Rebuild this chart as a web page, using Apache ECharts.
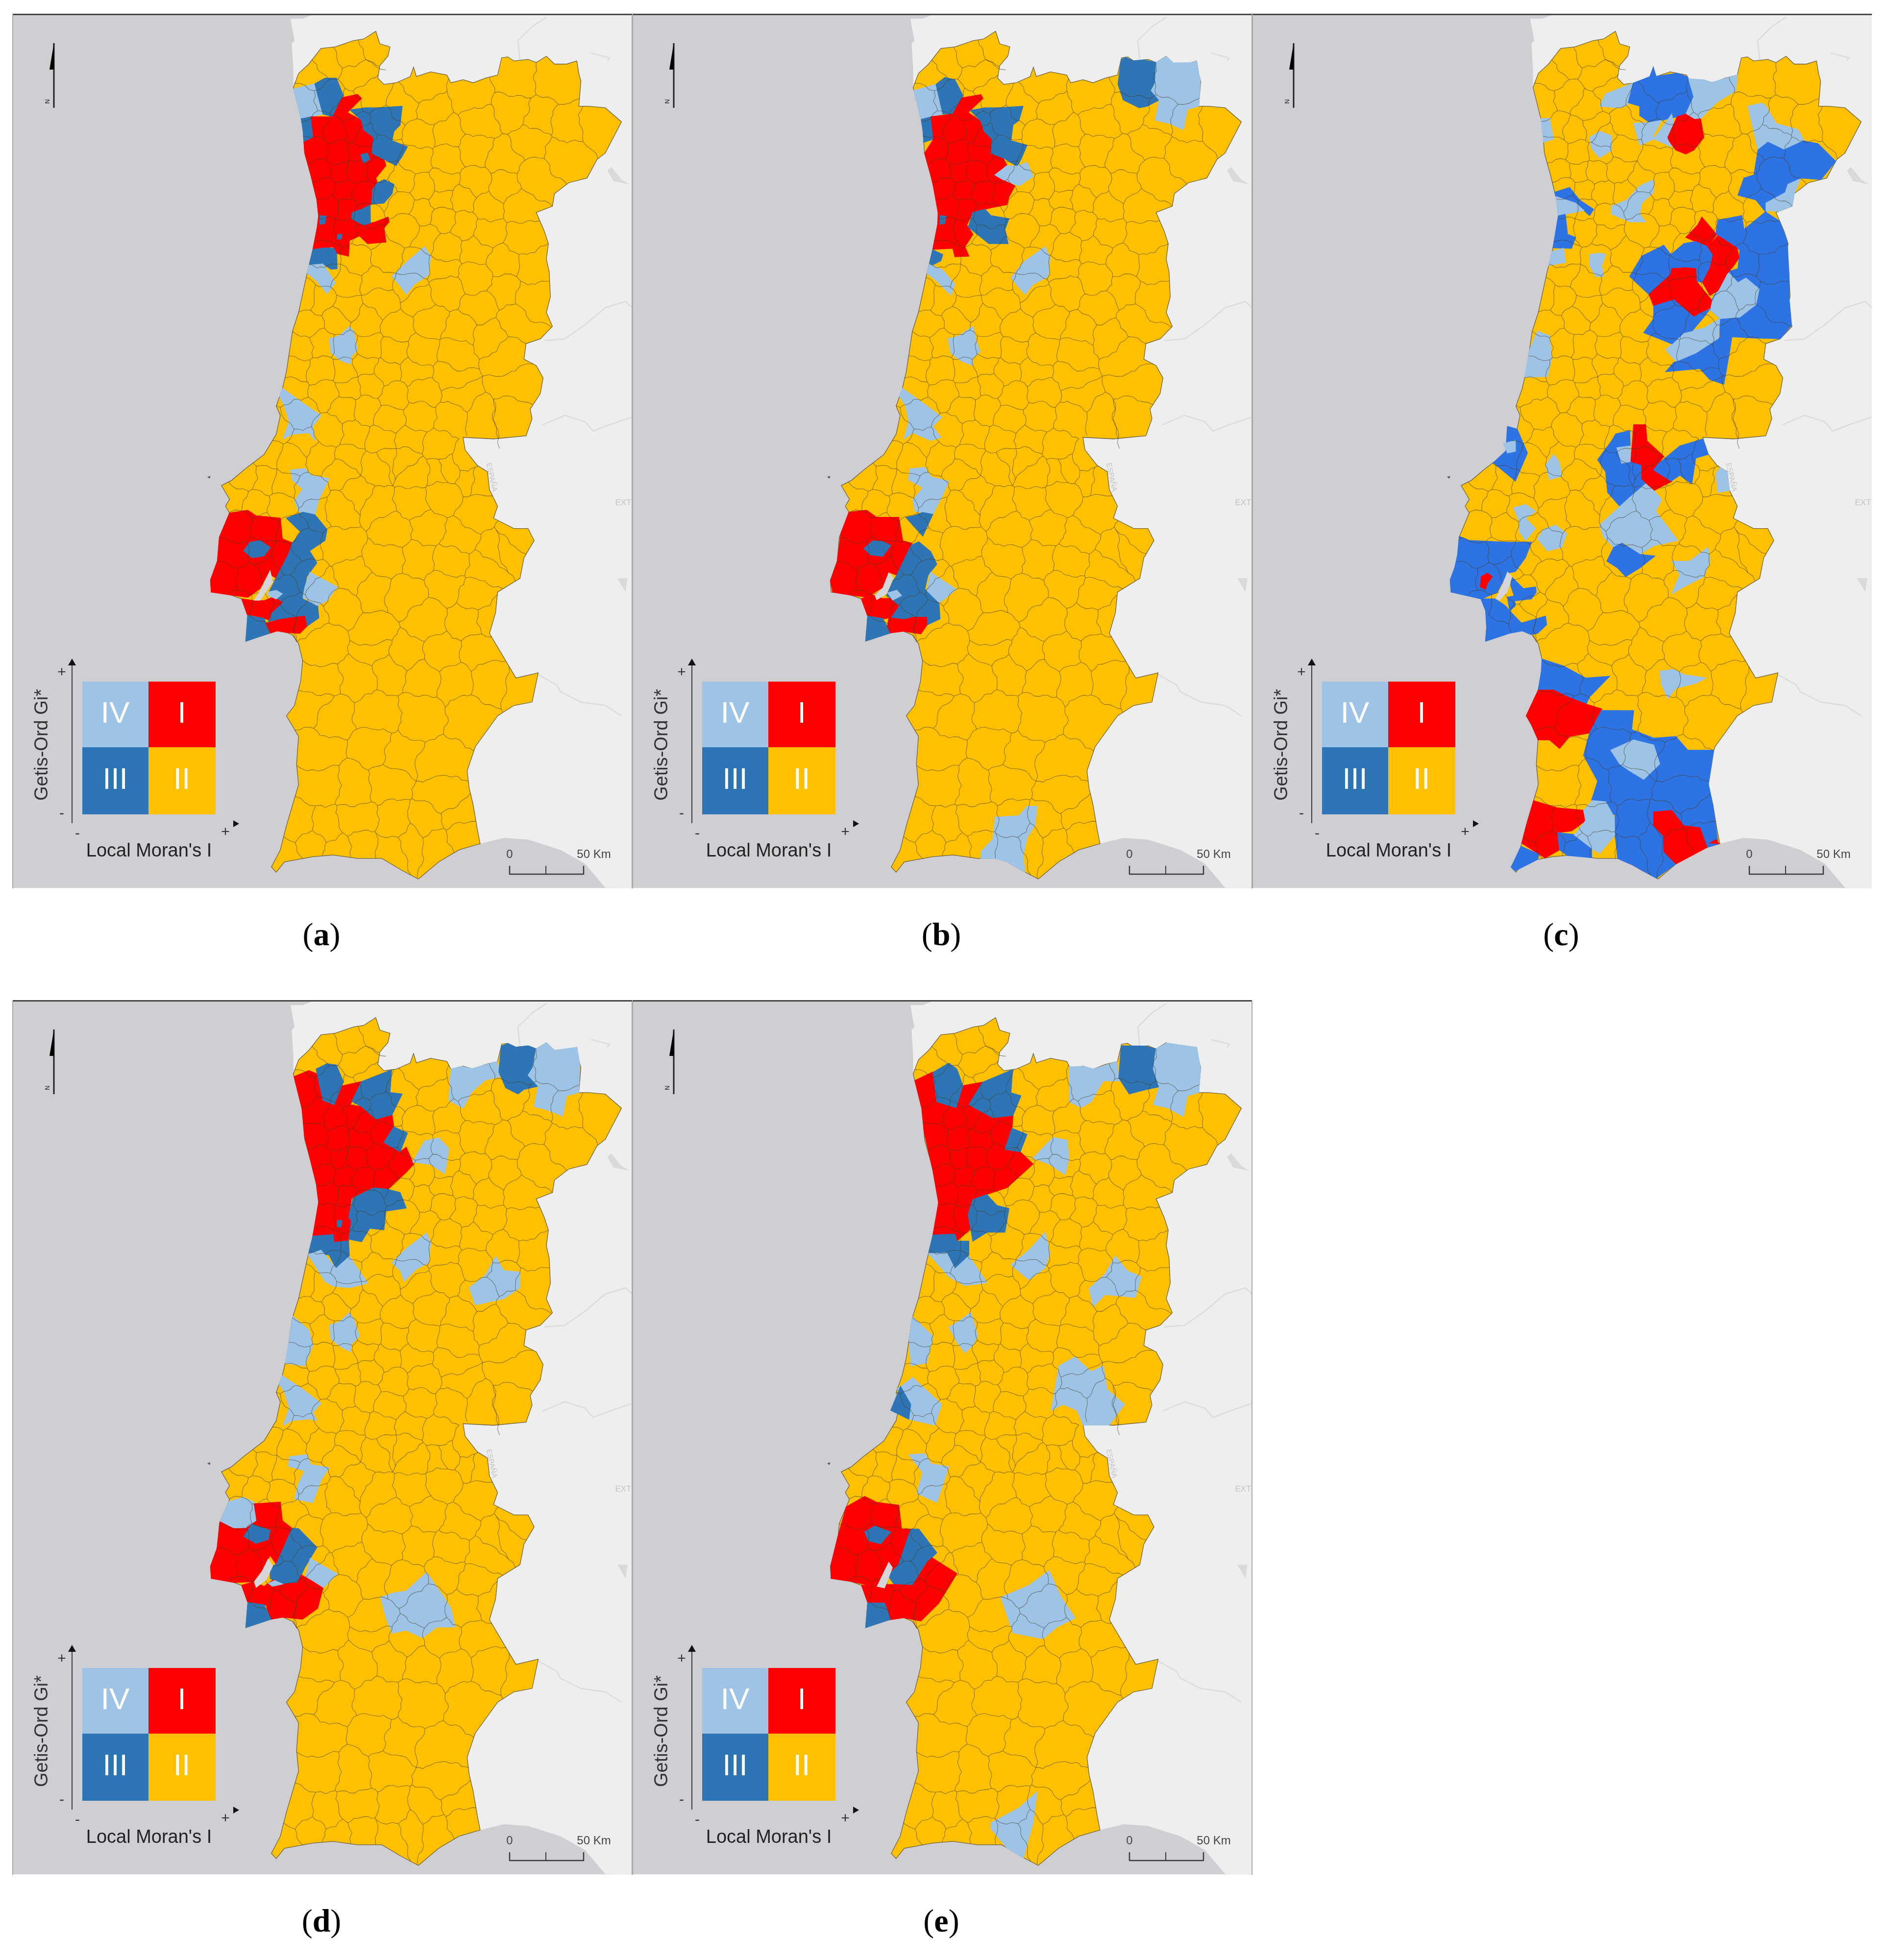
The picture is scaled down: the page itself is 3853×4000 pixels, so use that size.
<!DOCTYPE html>
<html style="height: 100%">
<head>
    <meta charset="utf-8">
</head>
<body style="height: 100%; margin: 0; background: #fff">
    <div id="container" style="width: 3853px; height: 4000px"></div>
    <script type="text/javascript" src="https://cdn.jsdelivr.net/npm/echarts@6/dist/echarts.min.js"></script>
    <script type="text/javascript">
// ---- categories / labels
var quadrants = ['I', 'II', 'III', 'IV'];
var captions = ['a', 'b', 'c', 'd', 'e'];
var axisX = "Local Moran's I";
var axisY = 'Getis-Ord Gi*';
var scaleLabels = ['0', '50 Km'];

// ---- map geometry. Flat x,y lists, each in its own trace frame (see frames below)
var coastNorth = [650,1455, 680,1390, 690,1330, 680,1300, 695,1245, 705,1190, 712,1130, 720,1060, 735,1000, 755,880, 770,800, 785,700, 780,640, 765,560, 750,490, 745,400];
var outlineNorth = [722,280, 735,235, 760,205, 790,155, 825,150, 870,130, 895,125, 925,100, 935,140, 960,150, 955,180, 935,210, 930,250, 945,270, 975,265, 1010,245, 1018,215, 1025,245, 1060,230, 1100,240, 1110,265, 1140,255, 1165,265, 1195,250, 1225,240, 1235,185, 1250,182, 1265,195, 1300,190, 1320,200, 1345,180, 1365,205, 1395,205, 1420,195, 1425,235, 1430,260, 1425,340, 1450,340, 1490,345, 1530,390, 1510,440, 1490,490, 1470,510, 1445,570, 1400,585, 1365,620, 1360,660, 1320,680, 1340,740, 1350,780, 1345,830, 1352,870, 1355,950, 1345,1000, 1360,1045, 1330,1085, 1295,1100, 1290,1150, 1320,1170, 1337,1210, 1330,1260, 1305,1310, 1310,1340, 1295,1395, 1215,1405, 1140,1400, 1145,1440, 1175,1490, 1200,1510];
var outlineSouth = [1205,142, 1225,190, 1215,225, 1265,255, 1300,255, 1315,290, 1290,340, 1280,400, 1225,440, 1220,500, 1205,560, 1225,600, 1250,650, 1270,690, 1325,675, 1310,760, 1265,770, 1225,800, 1170,890, 1150,960, 1155,1010, 1165,1060, 1175,1130, 1182,1172, 1130,1190, 1080,1225, 1030,1275, 990,1250, 940,1215, 880,1215, 820,1205, 770,1210, 700,1225, 680,1255, 668,1240, 690,1190, 705,1120, 720,1060, 735,1000, 730,940, 735,860, 705,800, 725,770, 740,700, 745,640, 735,590, 720,565, 690,550, 650,565, 605,583, 610,510, 595,460, 560,445, 520,440, 518,405, 535,350, 540,280, 565,210, 555,190, 565,170, 545,130, 570,115, 600,85];
var spainNorth = [770,47, 1556,47];
var spainSouth = [1556,1302, 1490,1300, 1440,1230, 1380,1190, 1300,1160, 1240,1155, 1182,1172];
var spainCoast = [722,285, 722,220, 718,140, 725,130, 715,60, 745,60];
var riversNorth = [
    [1280,190, 1275,130, 1310,85, 1345,55],
    [1455,170, 1500,185, 1495,195],
    [1340,1090, 1390,1085, 1440,1040, 1490,985, 1540,965, 1556,985],
    [1335,1360, 1390,1330, 1440,1350, 1460,1380, 1500,1360, 1556,1335]
];
var riversSouth = [[1325,680, 1370,710, 1380,730, 1430,760, 1490,770, 1530,800]];
var lakesNorth = [[1495,545, 1505,535, 1530,575, 1550,590, 1510,580]];
var lakesSouth = [[1520,400, 1545,400, 1540,440], [510,105, 518,102, 516,110]];

// municipality seats, the boundary mesh is grown from them
var seatsNorth = [770,240, 805,200, 860,170, 920,140, 880,240, 810,310, 745,325, 910,300, 1040,290, 1000,340, 1060,350, 1160,310, 1270,260, 1370,260, 1470,400, 1400,400, 1330,380, 1260,350, 1180,390, 1100,430, 1040,430, 1030,510, 1100,510, 1170,480, 1240,510, 1310,450, 1390,490, 1320,570, 1240,600, 1170,590, 1090,580,
    790,410, 850,340, 875,410, 820,420, 900,440, 780,480, 830,490, 890,490, 930,540, 790,550, 835,550, 880,550, 800,600, 845,610, 895,620, 950,400, 940,470, 950,620, 810,660, 850,670, 900,690, 810,740, 850,730, 900,750, 800,820,
    990,580, 1040,600, 1090,640, 1140,640, 1200,660, 1280,660, 985,650, 1040,680, 1090,700, 1140,720, 1200,740, 1285,760, 1000,730, 1050,760, 1100,790, 1170,800, 1240,840, 1310,850, 950,820, 1020,850, 1090,860, 1170,890, 1240,930, 1310,950, 880,830, 800,870, 850,900, 930,900, 1010,920, 790,960, 750,950, 850,990, 940,970, 1030,960, 1100,930, 1180,980, 1270,1030, 760,1040, 830,1020, 900,1030, 980,1050, 1060,1030, 1130,1060, 1210,1080, 740,1110, 790,1100, 850,1110, 910,1110, 970,1120, 1040,1120, 1120,1130, 1240,1130, 730,1180, 790,1190, 850,1190, 900,1170, 950,1190, 1020,1190, 1110,1200, 1260,1240, 720,1250, 800,1260, 860,1240, 910,1230, 970,1270, 1040,1260, 1130,1270, 740,1320, 850,1310, 900,1310, 960,1340, 1030,1330, 1110,1340, 1190,1340, 1250,1330, 680,1370, 750,1420, 810,1380, 870,1390, 940,1410, 1010,1410, 1080,1430, 1150,1470, 660,1450, 720,1470, 790,1460, 860,1470, 930,1490, 1000,1480, 1080,1510, 1160,1530];
var seatsSouth = [600,110, 650,120, 700,130, 760,150, 840,90, 880,160, 950,60, 1020,90, 1100,80, 1170,110, 580,160, 630,180, 690,190, 780,210, 840,200, 930,190, 1020,180, 1090,160, 1170,210, 1250,310, 590,250, 650,250, 720,260, 840,300, 970,260, 1050,250, 1130,280, 1220,320, 580,330, 640,320, 700,340, 750,300, 760,400, 870,400, 950,340, 1030,340, 1110,350, 1190,370, 1270,280,
    560,400, 610,400, 660,370, 590,480, 640,490, 700,440, 720,480, 790,430, 620,540, 700,510, 760,510,
    840,480, 920,440, 1000,450, 1100,420, 1170,450, 920,560, 1050,520, 1150,520, 1210,510, 800,590, 920,600, 1000,620, 1090,620, 1180,620, 790,700, 880,690, 960,670, 1040,690, 1120,700, 1200,700, 1290,720, 780,770, 820,800, 930,790, 1030,790, 1160,800, 790,900, 920,900, 980,920, 1090,950, 790,990, 870,1000, 950,990, 1090,1030, 740,1120, 800,1130, 880,1110, 970,1120, 1050,1120, 1130,1100, 700,1210, 770,1170, 830,1190, 890,1180, 960,1180, 1010,1160, 1070,1170, 1140,1140];
// how far boundaries bend off the straight line, as a share of their length
var bends = [0.09, -0.13, 0.05, 0.14, -0.07, -0.11, 0.12, -0.04, 0.08, -0.15, 0.1, 0.06, -0.12, 0.13, -0.09, 0.04, -0.06, 0.11];

// ---- classified areas per panel: [quadrant, trace frame, outline]. E is the Tagus estuary
var regionsA = [
    ['IV','an',[722,285, 775,268, 790,345, 795,365, 745,380, 730,345]],
    ['III','an',[778,262, 800,250, 828,250, 845,305, 840,320, 822,375, 795,365, 780,310]],
    ['III','an',[742,380, 765,372, 772,440, 755,455, 748,420]],
    ['I','an',[765,370, 820,370, 838,310, 880,302, 890,315, 855,360, 890,385, 895,415, 920,440, 915,490, 945,510, 950,530, 925,570, 930,590, 915,610, 920,650, 890,670, 868,680, 865,700, 895,720, 925,710, 955,695, 958,710, 945,730, 950,775, 905,780, 885,755, 860,770, 858,820, 825,810, 820,790, 775,800, 785,730, 788,690, 782,640, 765,560, 750,490, 755,455, 772,440]],
    ['III','an',[860,350, 900,345, 930,345, 990,340, 985,400, 970,420, 965,450, 1003,470, 990,500, 975,530, 945,510, 915,490, 920,440, 895,415, 890,385]],
    ['III','an',[888,495, 905,490, 910,510, 895,522]],
    ['III','an',[930,585, 945,575, 970,590, 965,620, 945,650, 915,655, 920,610]],
    ['III','an',[868,680, 890,670, 915,665, 912,715, 895,720, 865,700]],
    ['III','an',[788,690, 803,692, 800,715, 787,718]],
    ['III','an',[775,800, 800,805, 820,795, 828,815, 830,860, 815,862, 795,845, 762,855]],
    ['III','an',[832,750, 842,750, 840,765, 830,765]],
    ['IV','an',[765,850, 795,845, 825,905, 805,940, 780,900, 760,875]],
    ['IV','an',[965,885, 1000,840, 1045,790, 1060,820, 1055,880, 1020,910, 1000,942, 985,915]],
    ['IV','an',[810,1085, 835,1075, 860,1045, 870,1060, 880,1120, 865,1140, 862,1165, 840,1155, 815,1130]],
    ['IV','an',[690,1270, 700,1245, 745,1290, 790,1330, 770,1365, 775,1410, 760,1385, 720,1390, 697,1405, 712,1350, 700,1300]],
    ['IV','as',[715,85, 750,80, 765,100, 810,110, 785,170, 775,215, 735,205, 725,175, 745,140, 720,115]],
    ['I','as',[565,210, 610,202, 630,218, 690,225, 695,285, 720,297, 710,330, 680,400, 660,385, 640,430, 610,455, 570,445, 520,440, 518,405, 535,350, 540,280]],
    ['III','as',[600,320, 615,295, 640,290, 665,310, 650,335, 620,340]],
    ['III','as',[705,225, 745,208, 775,225, 805,258, 800,290, 762,320, 780,355, 755,395, 745,460, 782,480, 785,515, 755,540, 715,515, 660,525, 668,500, 695,470, 660,445, 675,410, 710,330, 725,295, 740,265]],
    ['IV','as',[765,385, 830,425, 805,465, 780,480, 745,455, 750,425]],
    ['I','as',[595,460, 625,465, 650,465, 675,450, 695,470, 668,500, 660,520, 630,510, 610,505]],
    ['III','as',[612,507, 650,518, 662,555, 640,570, 605,583]],
    ['I','as',[655,530, 690,522, 715,515, 750,510, 755,540, 738,560, 710,545, 680,545, 665,558]],
    ['IV','as',[660,440, 680,435, 695,445, 680,460, 660,450]],
    ['E','as',[665,375, 672,410, 655,440, 640,465, 625,465, 645,425]]
];
var regionsB = [
    ['IV','bn',[702,290, 758,270, 775,365, 725,380, 712,345]],
    ['III','bn',[758,265, 780,248, 805,255, 825,305, 808,365, 775,365]],
    ['III','bn',[722,382, 745,372, 752,445, 735,455, 728,420]],
    ['I','bn',[745,370, 800,368, 820,312, 870,303, 875,315, 838,360, 870,388, 878,420, 898,445, 895,490, 925,505, 935,530, 905,560, 925,575, 955,595, 940,630, 935,655, 895,665, 850,680, 835,720, 850,750, 830,790, 840,820, 805,822, 800,795, 757,800, 768,720, 768,680, 750,590, 740,550, 730,490, 752,445]],
    ['III','bn',[845,355, 880,345, 915,345, 975,340, 965,385, 950,400, 945,450, 985,465, 970,510, 960,532, 925,505, 895,490, 898,445, 878,420, 870,388]],
    ['IV','bn',[905,560, 940,530, 960,532, 985,520, 1000,565, 965,595, 925,575]],
    ['III','bn',[850,680, 880,668, 895,690, 940,700, 930,735, 938,780, 890,780, 835,730]],
    ['III','bn',[768,690, 783,692, 780,715, 768,718]],
    ['III','bn',[752,800, 775,815, 770,835, 742,855]],
    ['IV','bn',[738,875, 752,848, 775,865, 805,910, 795,945, 760,900]],
    ['IV','bn',[945,890, 975,840, 1030,790, 1042,825, 1038,885, 1000,910, 980,942]],
    ['IV','bn',[788,1085, 815,1075, 850,1045, 858,1090, 868,1125, 850,1145, 850,1170, 820,1155, 795,1130]],
    ['IV','bn',[670,1270, 680,1245, 725,1290, 772,1335, 750,1365, 770,1400, 745,1410, 700,1385, 678,1405, 690,1350, 682,1300]],
    ['III','bn',[1215,190, 1230,182, 1250,195, 1275,190, 1310,205, 1305,265, 1295,290, 1315,320, 1285,340, 1265,345, 1225,320, 1212,270]],
    ['IV','bn',[1310,205, 1335,178, 1350,200, 1395,200, 1412,195, 1415,235, 1420,255, 1410,345, 1385,350, 1375,415, 1340,395, 1305,385, 1315,320, 1295,290, 1305,265]],
    ['IV','bs',[692,90, 730,85, 745,115, 790,130, 770,185, 750,235, 705,225, 700,190, 725,150, 690,125]],
    ['III','bs',[683,245, 702,240, 725,225, 750,240, 725,305, 700,270]],
    ['I','bs',[545,225, 585,222, 610,245, 665,245, 675,320, 698,328, 660,430, 640,420, 625,470, 585,500, 545,500, 500,490, 492,450, 510,385, 520,295]],
    ['III','bs',[578,345, 600,320, 625,322, 645,335, 625,370, 595,365]],
    ['III','bs',[697,335, 715,323, 745,355, 760,395, 738,430, 730,475, 765,505, 768,570, 735,590, 680,572, 645,590, 645,555, 665,530, 650,510, 635,495, 650,450, 660,430]],
    ['IV','bs',[748,425, 808,475, 780,505, 760,518, 730,490]],
    ['I','bs',[572,505, 600,500, 625,505, 650,495, 668,525, 645,565, 630,570, 590,558]],
    ['III','bs',[592,560, 625,565, 645,610, 620,625, 580,640]],
    ['I','bs',[640,565, 680,575, 700,565, 735,565, 737,595, 720,618, 680,598, 645,618, 635,595]],
    ['IV','bs',[635,485, 660,478, 672,495, 650,510]],
    ['IV','bs',[905,1205, 965,1200, 985,1170, 1010,1170, 1005,1230, 985,1270, 975,1330, 980,1380, 940,1340, 905,1335, 870,1340, 870,1315, 900,1275]],
    ['E','bs',[640,420, 652,440, 635,490, 610,510, 605,495, 625,470]]
];
var regionsC = [
    ['IV','cn',[705,380, 725,378, 735,445, 712,455]],
    ['IV','cn',[850,340, 865,300, 935,275, 920,335, 900,345]],
    ['III','cn',[925,330, 935,275, 975,245, 985,215, 990,245, 1045,225, 1078,240, 1085,310, 1065,365, 1040,375, 1005,385, 975,392, 950,370, 950,340]],
    ['IV','cn',[1075,250, 1105,245, 1130,265, 1195,240, 1190,290, 1145,325, 1120,355, 1095,390, 1070,365, 1085,310]],
    ['IV','cn',[935,395, 975,392, 1005,385, 985,430, 985,445, 950,465]],
    ['IV','cn',[985,445, 1030,365, 1035,395, 1020,440, 1030,470]],
    ['I','cn',[1020,440, 1045,380, 1065,368, 1085,385, 1100,378, 1110,440, 1085,480, 1065,493, 1040,480, 1020,455]],
    ['IV','cn',[825,440, 850,420, 880,435, 880,480, 850,505, 830,475]],
    ['IV','cn',[1220,340, 1255,330, 1265,340, 1290,395, 1345,415, 1360,450, 1310,480, 1270,455, 1245,480]],
    ['III','cn',[1245,480, 1270,455, 1310,480, 1360,455, 1395,460, 1437,515, 1400,565, 1355,570, 1320,590, 1315,615, 1265,650, 1265,680, 1240,640, 1195,625, 1210,570, 1235,560]],
    ['IV','cn',[1320,590, 1350,570, 1335,620, 1330,660, 1300,685, 1265,675, 1265,650, 1315,620]],
    ['III','cn',[738,615, 775,600, 800,640, 835,670, 825,690, 790,650, 745,628]],
    ['IV','cn',[745,628, 790,650, 810,675, 750,690, 750,660]],
    ['IV','cn',[918,640, 950,595, 985,575, 985,615, 955,650, 950,685, 965,710, 925,710, 880,685, 880,660]],
    ['III','cn',[752,690, 765,690, 770,750, 790,760, 780,795, 740,795]],
    ['IV','cn',[730,805, 760,795, 765,840, 725,850]],
    ['IV','cn',[825,815, 850,810, 865,815, 855,850, 860,885, 840,885, 825,850]],
    ['III','cn',[1145,705, 1205,690, 1210,735, 1262,680, 1295,710, 1322,770, 1325,880, 1322,960, 1330,1040, 1305,1090, 1230,1082, 1180,1078, 1175,1120, 1160,1230, 1125,1215, 1100,1180, 1015,1190, 1035,1160, 1090,1130, 1150,1080, 1150,1020, 1125,990, 1130,960, 1170,870, 1195,860, 1200,800, 1140,750]],
    ['I','cn',[1065,760, 1095,720, 1105,695, 1125,725, 1140,755, 1120,790]],
    ['IV','cn',[1130,975, 1170,870, 1195,905, 1215,890, 1248,925, 1240,975, 1200,1015, 1150,1020, 1125,995]],
    ['IV','cn',[1015,1120, 1060,1065, 1110,1050, 1150,1020, 1145,1080, 1090,1130, 1040,1155]],
    ['III','cn',[925,885, 955,820, 1010,785, 1028,815, 1060,780, 1090,770, 1120,790, 1135,820, 1125,860, 1110,905, 1090,900, 1090,860, 1050,855, 1000,910, 975,945]],
    ['I','cn',[1120,790, 1145,755, 1195,790, 1200,825, 1185,850, 1170,880, 1145,930, 1125,945, 1105,915, 1130,860, 1128,820]],
    ['I','cn',[972,945, 1000,905, 1030,885, 1030,860, 1065,850, 1090,860, 1090,910, 1125,960, 1125,985, 1085,1015, 1035,960, 985,980]],
    ['III','cn',[985,985, 1035,960, 1085,1015, 1105,1000, 1125,990, 1110,1015, 1080,1050, 1060,1065, 1030,1100, 960,1065, 985,1020]],
    ['IV','cn',[670,1120, 695,1060, 725,1075, 730,1150, 720,1205, 672,1210]],
    ['III','cn',[620,1365, 650,1375, 670,1450, 640,1540, 590,1490, 610,1440]],
    ['IV','cn',[610,1420, 640,1410, 640,1445, 620,1450]],
    ['IV','cn',[715,1490, 735,1455, 750,1480, 755,1525, 725,1535]],
    ['III','cs',[845,55, 880,0, 890,-20, 925,-30, 928,60, 955,70, 955,110, 965,125, 900,190, 870,150, 865,90]],
    ['IV','cs',[893,20, 925,15, 925,60, 905,65]],
    ['I','cs',[935,-47, 965,-47, 968,0, 1010,45, 985,85, 1030,118, 985,145, 955,110, 955,70, 928,60]],
    ['III','cs',[1000,70, 1050,15, 1105,-5, 1115,45, 1090,50, 1080,125, 1050,100, 1030,115, 985,85]],
    ['IV','cs',[1140,95, 1155,70, 1175,90, 1165,150, 1145,150]],
    ['IV','cs',[850,245, 930,170, 965,125, 985,145, 1005,170, 990,205, 1045,290, 985,305, 950,330, 910,295, 885,310, 860,280]],
    ['III','cs',[868,350, 885,310, 905,295, 950,330, 988,335, 950,370, 915,395, 895,370]],
    ['IV','cs',[635,195, 665,185, 690,205, 665,225, 690,255, 665,290, 650,265, 650,235]],
    ['IV','cs',[695,285, 710,258, 740,245, 768,270, 755,310, 720,320]],
    ['IV','cs',[1030,350, 1075,350, 1120,310, 1125,350, 1110,395, 1060,425, 1030,445, 1050,390]],
    ['III','cs',[500,278, 525,290, 620,295, 680,295, 665,340, 640,380, 620,385, 595,440, 560,450, 480,440, 475,405, 490,370, 500,330]],
    ['I','cs',[555,395, 570,385, 582,395, 570,415, 565,432, 552,425]],
    ['III','cs',[630,395, 660,430, 690,425, 692,440, 680,460, 640,465, 635,445, 628,420]],
    ['III','cs',[555,455, 590,460, 615,480, 630,500, 655,530, 715,510, 718,535, 695,560, 680,560, 660,545, 625,565, 565,583, 575,545, 575,490]],
    ['III','cs',[620,455, 640,450, 640,480, 625,495]],
    ['III','cs',[705,635, 760,655, 815,690, 875,685, 825,745, 815,770, 770,745, 735,725, 695,725, 700,670]],
    ['I','cs',[695,725, 735,725, 770,745, 815,765, 855,780, 850,845, 775,860, 750,895, 725,870, 695,870, 690,820, 668,800]],
    ['IV','cs',[1000,670, 1035,665, 1060,680, 1115,690, 1090,705, 1040,720, 1020,750, 1005,710]],
    ['III','cs',[858,785, 935,785, 930,840, 985,865, 1040,860, 1070,900, 1135,900, 1115,1000, 1130,1060, 1145,1170, 1110,1180, 1050,1225, 990,1275, 940,1225, 895,1215, 890,1160, 880,1110, 890,1090, 830,1045, 845,990, 810,915, 825,850]],
    ['IV','cs',[878,900, 935,870, 985,885, 1000,940, 960,985, 925,960, 900,940]],
    ['I','cs',[695,1050, 745,1068, 810,1075, 815,1105, 780,1135, 745,1140, 750,1190, 715,1220, 655,1170, 680,1110]],
    ['III','cs',[655,1180, 700,1200, 695,1215, 640,1250, 630,1240]],
    ['III','cs',[745,1135, 785,1145, 830,1185, 830,1215, 770,1210, 750,1190]],
    ['IV','cs',[830,1050, 865,1050, 893,1100, 880,1150, 850,1200, 830,1185, 785,1150, 815,1105, 810,1075]],
    ['I','cs',[985,1080, 1030,1075, 1060,1120, 1100,1125, 1115,1170, 1040,1230, 1010,1195, 1010,1150, 985,1120]],
    ['I','cs',[1125,1170, 1140,1160, 1148,1172]],
    ['E','cs',[620,380, 632,395, 620,440, 600,465, 590,460, 605,425]]
];
var regionsD = [
    ['I','dn',[722,310, 760,290, 780,300, 795,385, 822,400, 838,340, 890,325, 862,400, 890,405, 925,445, 965,430, 970,475, 945,520, 985,550, 1000,535, 1018,590, 1000,615, 955,670, 920,665, 865,700, 858,760, 865,770, 858,835, 822,840, 820,815, 775,820, 790,710, 782,650, 765,570, 750,500, 745,410]],
    ['III','dn',[778,285, 805,268, 828,272, 845,325, 825,400, 795,385]],
    ['III','dn',[860,385, 890,325, 965,295, 960,360, 990,365, 970,430, 925,445, 890,405]],
    ['III','dn',[945,520, 970,470, 1003,490, 985,550]],
    ['III','dn',[870,700, 920,665, 955,672, 985,680, 1000,730, 950,740, 945,800, 910,795, 890,838, 860,830, 865,770, 855,760]],
    ['III','dn',[770,820, 820,815, 822,840, 858,835, 860,885, 828,925, 810,880, 762,875]],
    ['III','dn',[830,770, 842,770, 840,790, 830,790]],
    ['IV','dn',[1110,285, 1135,265, 1160,290, 1225,265, 1230,310, 1195,320, 1160,360, 1140,410, 1105,385]],
    ['III','dn',[1230,210, 1250,205, 1270,215, 1300,215, 1320,230, 1312,280, 1300,305, 1325,340, 1290,350, 1275,365, 1245,345, 1225,295]],
    ['IV','dn',[1320,230, 1345,198, 1365,225, 1420,215, 1430,265, 1425,360, 1395,370, 1385,435, 1345,415, 1315,405, 1325,340, 1300,305, 1312,280]],
    ['IV','dn',[1020,580, 1045,515, 1080,505, 1105,540, 1095,620, 1060,590]],
    ['IV','dn',[760,880, 790,865, 825,925, 860,885, 905,970, 860,985, 820,980, 800,965]],
    ['IV','dn',[965,905, 1000,860, 1050,810, 1060,840, 1055,905, 1025,925, 995,965, 985,930]],
    ['IV','dn',[1155,985, 1195,945, 1220,885, 1240,930, 1280,935, 1280,985, 1240,1020, 1170,1040]],
    ['IV','dn',[708,1150, 730,1080, 760,1120, 770,1170, 750,1235, 712,1230]],
    ['IV','dn',[810,1105, 835,1095, 860,1065, 870,1085, 885,1140, 865,1165, 862,1190, 840,1175, 815,1150]],
    ['IV','dn',[690,1295, 702,1270, 745,1310, 790,1355, 770,1385, 780,1410, 760,1405, 720,1410, 697,1425, 712,1370, 700,1320]],
    ['IV','ds',[712,115, 755,108, 765,140, 810,150, 790,190, 770,262, 725,250, 735,200, 750,160, 710,145]],
    ['IV','ds',[545,320, 565,260, 600,245, 625,260, 632,320, 605,345, 575,345, 548,325]],
    ['I','ds',[628,265, 690,260, 695,320, 720,345, 700,400, 680,460, 665,430, 645,480, 625,515, 575,520, 520,510, 516,465, 535,410, 545,325, 575,345, 605,345, 632,320]],
    ['III','ds',[600,370, 625,340, 665,350, 660,380, 630,392]],
    ['III','ds',[718,345, 735,345, 780,405, 750,470, 730,525, 700,525, 665,505, 665,470, 685,460, 710,385]],
    ['IV','ds',[770,445, 830,490, 795,535, 752,500]],
    ['I','ds',[595,525, 625,520, 650,530, 670,515, 695,525, 735,520, 745,495, 762,520, 795,535, 782,600, 745,635, 700,615, 665,635, 655,590, 615,580]],
    ['III','ds',[615,580, 650,590, 668,640, 605,663]],
    ['IV','ds',[655,510, 680,500, 695,525, 670,530]],
    ['IV','ds',[937,565, 970,550, 1000,545, 1050,485, 1090,560, 1110,600, 1120,660, 1075,660, 1040,695, 1000,670, 965,680, 950,630]],
    ['E','ds',[660,440, 672,465, 655,510, 630,535, 625,515, 645,480]]
];
var regionsE = [
    ['I','e',[702,170, 750,155, 760,205, 808,215, 825,178, 875,172, 840,210, 900,232, 950,228, 945,275, 1000,310, 935,350, 890,360, 850,370, 838,395, 843,420, 810,440, 805,428, 758,430, 768,375, 750,320, 730,255, 725,215]],
    ['III','e',[757,155, 790,140, 810,150, 825,178, 808,215, 760,205]],
    ['III','e',[838,210, 875,172, 950,155, 945,190, 970,195, 950,228, 900,232]],
    ['III','e',[930,285, 950,250, 985,260, 965,292]],
    ['III','e',[850,370, 885,362, 910,380, 940,385, 930,425, 885,425, 850,440, 838,395]],
    ['III','e',[752,430, 805,428, 810,442, 840,440, 840,465, 805,487, 785,460, 742,460]],
    ['IV','e',[745,462, 785,460, 805,487, 840,465, 885,510, 830,515, 790,500]],
    ['IV','e',[945,480, 990,455, 1030,425, 1042,460, 1030,485, 990,505]],
    ['IV','e',[1095,145, 1130,140, 1150,155, 1210,140, 1215,170, 1175,170, 1145,205, 1120,215, 1090,205]],
    ['III','e',[1215,110, 1280,115, 1305,122, 1300,150, 1315,180, 1280,185, 1240,192, 1215,165]],
    ['IV','e',[1305,120, 1335,105, 1410,110, 1420,150, 1410,190, 1385,195, 1375,230, 1335,215, 1300,210, 1315,180, 1300,150]],
    ['IV','e',[1000,300, 1050,265, 1085,270, 1090,300, 1080,328, 1040,310]],
    ['IV','e',[1140,520, 1180,495, 1205,465, 1235,490, 1270,500, 1255,535, 1180,530, 1150,550]],
    ['IV','e',[685,605, 710,570, 750,600, 735,645, 695,650]],
    ['IV','e',[790,585, 815,575, 845,560, 862,600, 850,615, 830,628, 810,610]],
    ['IV','e',[1045,725, 1065,650, 1105,635, 1145,660, 1175,650, 1185,690, 1228,715, 1190,750, 1125,750, 1110,725, 1075,715]],
    ['IV','e',[668,690, 700,670, 772,715, 755,750, 690,740]],
    ['III','e',[645,725, 675,690, 695,715, 685,742]],
    ['IV','e',[690,800, 730,798, 745,815, 790,820, 760,880, 710,865, 725,830]],
    ['I','e',[525,885, 580,870, 610,880, 665,885, 672,925, 698,925, 665,985, 640,1000, 630,1025, 545,1015, 495,1010, 492,985, 520,935]],
    ['III','e',[580,930, 605,920, 645,930, 620,950, 590,945]],
    ['III','e',[665,985, 695,925, 715,925, 760,965, 730,985, 700,1020, 655,1020, 645,1005]],
    ['I','e',[572,1020, 650,1020, 700,1020, 735,980, 750,975, 810,1000, 765,1050, 720,1080, 680,1070, 640,1080, 630,1050, 590,1048]],
    ['III','e',[595,1050, 630,1050, 645,1080, 580,1092]],
    ['IV','e',[920,1040, 990,1020, 1040,995, 1070,1040, 1105,1075, 1060,1090, 1025,1110, 950,1100]],
    ['IV','e',[895,1420, 965,1395, 1010,1368, 1000,1420, 975,1480, 940,1455, 895,1430]],
    ['E','e',[640,980, 650,990, 630,1025, 610,1022]]
];

// ---- trace frames -> panel px: [x shift, x scale, y shift, y scale]
var frames = {
    an: [0, 1.206, 0, 1.568], as: [0, 1.206, 900, 1.425],
    bn: [25, 1.222, 0, 1.568], bs: [25, 1.222, 900, 1.568],
    cn: [39, 1.222, 0, 1.568], cs: [39, 1.222, 900, 1.425],
    dn: [0, 1.206, -13, 1.568], ds: [0, 1.206, 887, 1.568],
    e: [25, 1.222, -13, 0.8253]
};
function toPanel(frame, flat) {
    var f = frames[frame], res = [];
    for (var i = 0; i < flat.length; i += 2) {
        res.push([f[0] + flat[i] / f[1], f[2] + flat[i + 1] / f[3]]);
    }
    return res;
}

// ---- layout
var PANEL = {x0: 26, y0: 30, x1: 1290, y1: 1813};
var colors = {I: '#ff0000', II: '#ffc000', III: '#2e75b6', IV: '#9dc3e6', E: '#d6d6da'};
var panels = [
    {id: 0, ox: 0, oy: 0, regions: regionsA},
    {id: 1, ox: 1265, oy: 0, regions: regionsB},
    {id: 2, ox: 2530, oy: 0, regions: regionsC, blue: '#2e73e3'},
    {id: 3, ox: 0, oy: 2013, regions: regionsD},
    {id: 4, ox: 1265, oy: 2013, regions: regionsE}
];

var outline = toPanel('an', outlineNorth).concat(toPanel('as', outlineSouth), toPanel('an', coastNorth));
var seats = toPanel('an', seatsNorth).concat(toPanel('as', seatsSouth));

// ---- geometry helpers
function nearestOnRing(pt, ring) {
    var best = null, bestD = Infinity;
    for (var i = 0; i < ring.length; i++) {
        var a = ring[i], b = ring[(i + 1) % ring.length];
        var dx = b[0] - a[0], dy = b[1] - a[1], l2 = dx * dx + dy * dy;
        var t = l2 ? ((pt[0] - a[0]) * dx + (pt[1] - a[1]) * dy) / l2 : 0;
        t = Math.max(0, Math.min(1, t));
        var x = a[0] + dx * t, y = a[1] + dy * t;
        var d = Math.hypot(pt[0] - x, pt[1] - y);
        if (d < bestD) { bestD = d; best = [x, y]; }
    }
    return {pt: best, d: bestD};
}
function insideRing(pt, ring) {
    var c = false;
    for (var i = 0, j = ring.length - 1; i < ring.length; j = i++) {
        var a = ring[i], b = ring[j];
        if ((a[1] > pt[1]) !== (b[1] > pt[1]) && pt[0] < (b[0] - a[0]) * (pt[1] - a[1]) / (b[1] - a[1]) + a[0]) c = !c;
    }
    return c;
}
function clipHalf(poly, a, b) {
    // keep the side of the a-b bisector where a is
    var mx = (a[0] + b[0]) / 2, my = (a[1] + b[1]) / 2, nx = b[0] - a[0], ny = b[1] - a[1], out = [];
    for (var i = 0; i < poly.length; i++) {
        var p = poly[i], q = poly[(i + 1) % poly.length];
        var dp = (p[0] - mx) * nx + (p[1] - my) * ny, dq = (q[0] - mx) * nx + (q[1] - my) * ny;
        if (dp <= 0) out.push(p);
        if (dp * dq < 0) {
            var t = dp / (dp - dq);
            out.push([p[0] + (q[0] - p[0]) * t, p[1] + (q[1] - p[1]) * t]);
        }
    }
    return out;
}

// ---- boundary mesh: one line per shared edge of the seats' catchment cells
function buildMesh() {
    var verts = [], seen = {}, lines = [], bendIdx = 0;
    function canon(p) {
        for (var i = 0; i < verts.length; i++) {
            if (Math.abs(verts[i][0] - p[0]) < 1.5 && Math.abs(verts[i][1] - p[1]) < 1.5) return i;
        }
        verts.push(p);
        return verts.length - 1;
    }
    function bent(a, b, out) {
        var dx = b[0] - a[0], dy = b[1] - a[1], len = Math.hypot(dx, dy);
        if (len < 14) { out.push(b); return; }
        var w = bends[bendIdx++ % bends.length];
        var m = [(a[0] + b[0]) / 2 - dy * w, (a[1] + b[1]) / 2 + dx * w];
        bent(a, m, out);
        bent(m, b, out);
    }
    seats.forEach(function (s, i) {
        var poly = outline;
        for (var j = 0; j < seats.length && poly.length > 2; j++) {
            if (j !== i) poly = clipHalf(poly, s, seats[j]);
        }
        for (var k = 0; k < poly.length && poly.length > 2; k++) {
            var ia = canon(poly[k]), ib = canon(poly[(k + 1) % poly.length]);
            if (ia === ib) continue;
            var key = Math.min(ia, ib) + '_' + Math.max(ia, ib);
            if (seen[key]) continue;
            seen[key] = 1;
            var a = verts[ia], b = verts[ib], mid = [(a[0] + b[0]) / 2, (a[1] + b[1]) / 2];
            if (!insideRing(mid, outline) || nearestOnRing(mid, outline).d < 2) continue;
            var pts = [a];
            bent(a, b, pts);
            lines.push(pts);
        }
    });
    return lines;
}
var meshLines = buildMesh();

// close the hairline gaps between traced neighbours and the coast
function settleRegions(regions) {
    var placed = [];
    return regions.map(function (r) {
        var pts = toPanel(r[1], r[2]);
        if (r[0] === 'E') return pts;
        var xs = pts.map(function (p) { return p[0]; }), ys = pts.map(function (p) { return p[1]; });
        var big = Math.max.apply(null, xs) - Math.min.apply(null, xs) > 30 || Math.max.apply(null, ys) - Math.min.apply(null, ys) > 30;
        if (big) {
            pts = pts.map(function (p) {
                var n = nearestOnRing(p, outline);
                if (n.d < 10) return n.pt;
                var best = null, bestD = 8;
                placed.forEach(function (ring) {
                    var m = nearestOnRing(p, ring);
                    if (m.d < bestD) { bestD = m.d; best = m.pt; }
                });
                return best || p;
            });
        }
        placed.push(pts);
        return pts;
    });
}

function geoLine(pts) {
    return pts.map(function (p) { return [p[0], -p[1]]; });
}
function polygon(name, pts) {
    var ring = geoLine(pts);
    ring.push(ring[0]);
    return {type: 'Feature', properties: {name: name}, geometry: {type: 'Polygon', coordinates: [ring]}};
}
function line(name, pts) {
    return {type: 'Feature', properties: {name: name}, geometry: {type: 'LineString', coordinates: geoLine(pts)}};
}

var seaRect = [[PANEL.x0, PANEL.y0], [PANEL.x1, PANEL.y0], [PANEL.x1, PANEL.y1], [PANEL.x0, PANEL.y1]];
var spain = toPanel('an', spainNorth).concat(toPanel('as', spainSouth), toPanel('an', spainCoast));

var dom = document.getElementById('container');
var myChart = echarts.init(dom);

var series = panels.map(function (panel) {
    var mapName = 'portugal' + panel.id;
    var features = [polygon('sea', seaRect), polygon('spain', spain)];
    var data = [
        {name: 'sea', value: 0, itemStyle: {areaColor: '#cfcfd3', borderWidth: 0}},
        {name: 'spain', value: 0, itemStyle: {areaColor: '#eeeeef', borderWidth: 0}}
    ];
    function add(feature, style) {
        features.push(feature);
        data.push({name: feature.properties.name, value: 1, itemStyle: style});
    }
    riversNorth.forEach(function (r, i) {
        add(line('riverN' + i, toPanel('an', r)), {borderColor: '#dcdcdd', borderWidth: 2.5});
    });
    riversSouth.forEach(function (r, i) {
        add(line('riverS' + i, toPanel('as', r)), {borderColor: '#dcdcdd', borderWidth: 2.5});
    });
    lakesNorth.forEach(function (r, i) {
        add(polygon('lakeN' + i, toPanel('an', r)), {areaColor: '#d9d9dc', borderWidth: 0});
    });
    lakesSouth.forEach(function (r, i) {
        add(polygon('lakeS' + i, toPanel('as', r)), {areaColor: i === 1 ? '#555' : '#d9d9dc', borderWidth: 0});
    });
    add(polygon('country', outline), {areaColor: colors.II, borderColor: '#6b6040', borderWidth: 1.3});
    var settled = settleRegions(panel.regions);
    panel.regions.forEach(function (r, i) {
        if (r[0] === 'E') return;
        var c = r[0] === 'III' && panel.blue ? panel.blue : colors[r[0]];
        add(polygon('area' + i, settled[i]), {areaColor: c, borderColor: c, borderWidth: 1.5});
    });
    meshLines.forEach(function (m, i) {
        add(line('edge' + i, m), {borderColor: 'rgba(70,60,30,0.6)', borderWidth: 1.1});
    });
    panel.regions.forEach(function (r, i) {
        if (r[0] !== 'E') return;
        add(polygon('estuary' + i, settled[i]), {areaColor: colors.E, borderWidth: 0});
    });
    echarts.registerMap(mapName, {type: 'FeatureCollection', features: features});
    return {
        type: 'map',
        map: mapName,
        silent: true,
        roam: false,
        aspectScale: 1,
        layoutCenter: [(PANEL.x0 + PANEL.x1) / 2 + panel.ox, (PANEL.y0 + PANEL.y1) / 2 + panel.oy],
        layoutSize: PANEL.y1 - PANEL.y0,
        label: {show: false},
        emphasis: {disabled: true},
        select: {disabled: true},
        selectedMode: false,
        data: data
    };
});

// ---- furniture that repeats in every panel
var SANS = '"Liberation Sans", Arial, sans-serif';
function furniture(panel) {
    var ox = panel.ox, oy = panel.oy, ink = '#3a3a3a', els = [];
    function rect(x, y, w, h, fill) {
        els.push({type: 'rect', z: 50, shape: {x: x + ox, y: y + oy, width: w, height: h}, style: {fill: fill}, silent: true});
    }
    function seg(x1, y1, x2, y2, w, c) {
        els.push({type: 'line', z: 50, shape: {x1: x1 + ox, y1: y1 + oy, x2: x2 + ox, y2: y2 + oy}, style: {stroke: c || ink, lineWidth: w}, silent: true});
    }
    function tri(pts, c) {
        els.push({type: 'polygon', z: 50, shape: {points: pts.map(function (p) { return [p[0] + ox, p[1] + oy]; })}, style: {fill: c || '#111'}, silent: true});
    }
    function text(str, x, y, size, c, opt) {
        opt = opt || {};
        els.push({
            type: 'text', z: 50, x: x + ox, y: y + oy, rotation: opt.rotation || 0, silent: true,
            style: {text: str, x: 0, y: 0, align: opt.align || 'center', verticalAlign: 'middle', fontFamily: opt.family || SANS, fontSize: size, fill: c, rich: opt.rich}
        });
    }
    // frame
    rect(PANEL.x0, PANEL.y0 - 2, PANEL.x1 - PANEL.x0, 3, '#454545');
    rect(PANEL.x0 - 1, PANEL.y0, 2, PANEL.y1 - PANEL.y0, '#a9a9ad');
    if (panel.id !== 2) rect(PANEL.x1 - 1, PANEL.y0, 2, PANEL.y1 - PANEL.y0, '#a9a9ad');
    // legend quadrants
    rect(168, 1391, 135, 134, colors.IV);
    rect(303, 1391, 137, 134, colors.I);
    rect(168, 1525, 135, 137, colors.III);
    rect(303, 1525, 137, 137, colors.II);
    text(quadrants[3], 235, 1458, 62, '#fff');
    text(quadrants[0], 371, 1458, 62, '#fff');
    text(quadrants[2], 235, 1593, 62, '#fff');
    text(quadrants[1], 371, 1593, 62, '#fff');
    // legend axes
    seg(147, 1352, 147, 1680, 2, ink);
    tri([[147, 1344], [139, 1358], [155, 1358]]);
    tri([[476, 1674], [488, 1681], [476, 1688]]);
    text('+', 126, 1373, 30, '#333');
    text('-', 126, 1661, 30, '#333');
    text('-', 158, 1702, 30, '#333');
    text('+', 460, 1699, 30, '#333');
    text(axisY, 87, 1520, 38, '#333', {rotation: Math.PI / 2});
    text(axisX, 304, 1738, 38, '#222');
    // north arrow
    seg(110, 88, 110, 220, 3, '#222');
    tri([[110, 88], [110, 142], [101, 142]], '#000');
    text('N', 97, 207, 13, '#222', {rotation: Math.PI / 2});
    // scale bar
    seg(1040, 1784, 1191, 1784, 2.5);
    seg(1040, 1767, 1040, 1785, 2.5);
    seg(1114, 1767, 1114, 1785, 2);
    seg(1191, 1767, 1191, 1785, 2.5);
    text(scaleLabels[0], 1040, 1744, 24, '#444');
    text(scaleLabels[1], 1212, 1744, 24, '#444');
    // faint base map lettering
    text('ESPAÑA', 1003, 974, 15, '#c4c4c6', {rotation: -1.35});
    text('EXT', 1272, 1026, 17, '#c4c4c6');
    // caption
    text('({b|' + captions[panel.id] + '})', 656, 1912, 66, '#000', {
        family: '"Liberation Serif", serif',
        rich: {b: {fontWeight: 'bold', fontSize: 66, fontFamily: '"Liberation Serif", serif', fill: '#000'}}
    });
    return els;
}
var graphics = [];
panels.forEach(function (p) { graphics = graphics.concat(furniture(p)); });

option = {
    backgroundColor: '#fff',
    animation: false,
    tooltip: {show: false},
    series: series,
    graphic: {elements: graphics}
};
if (option && typeof option === "object") {
    myChart.setOption(option, true);
}
</script>
</body>
</html>
